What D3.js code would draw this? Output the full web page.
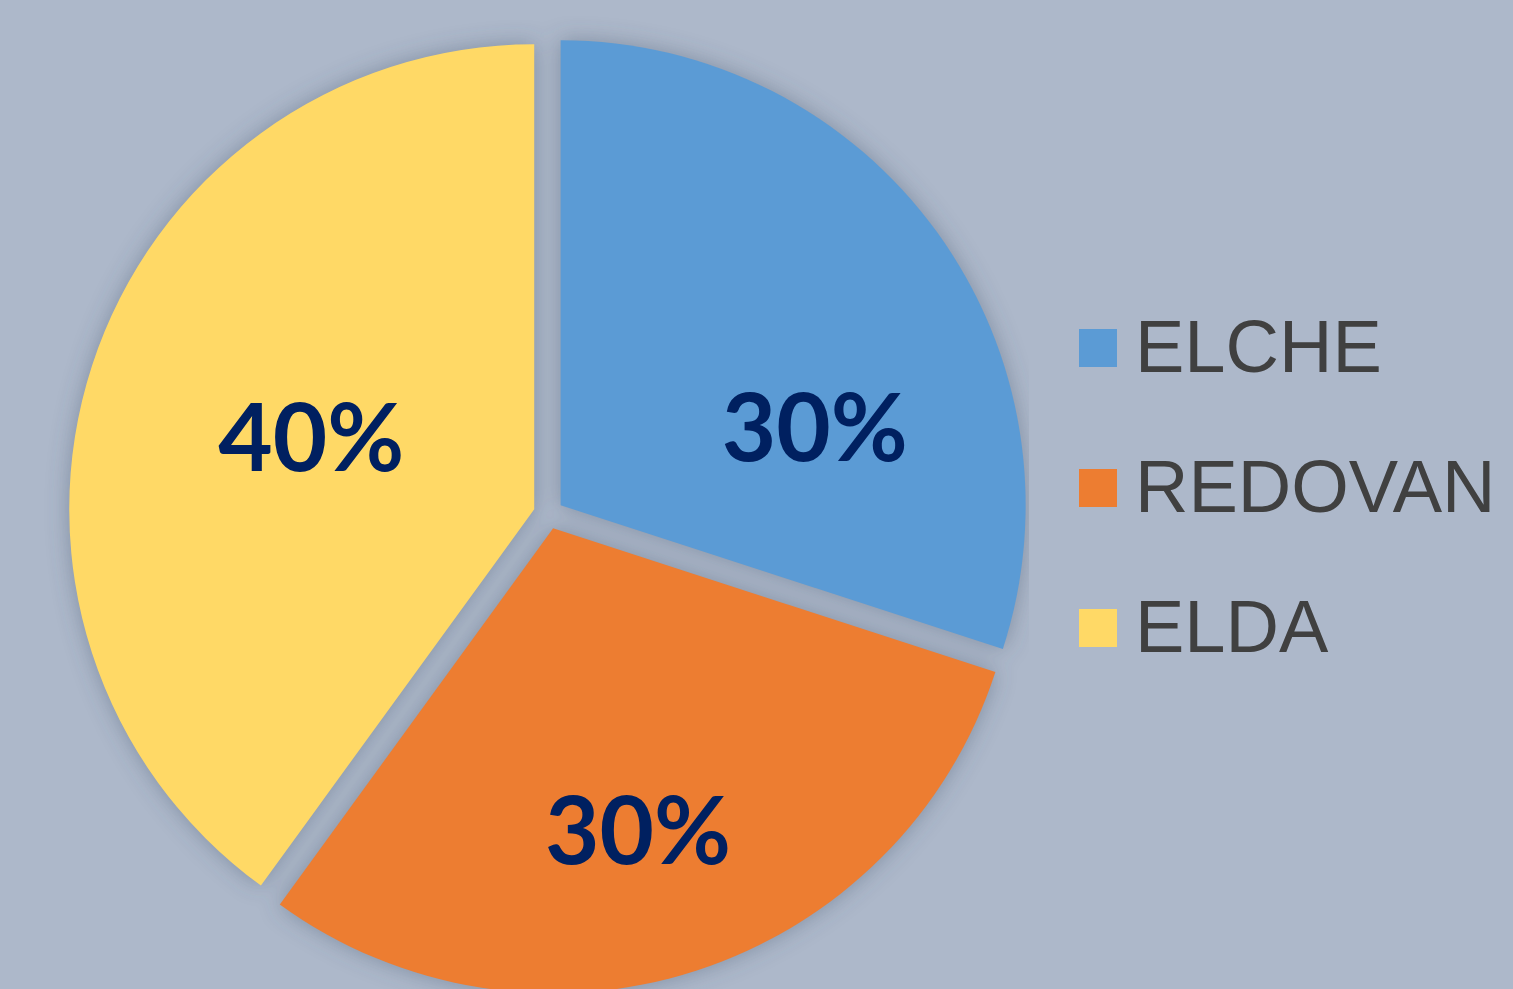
<!DOCTYPE html>
<html>
<head>
<meta charset="utf-8">
<script src="https://cdn.jsdelivr.net/npm/d3@7"></script>
<style>
  html, body { margin: 0; padding: 0; background: #adb8ca; }
  svg { display: block; }
</style>
</head>
<body>
<script>
const categories = ['ELCHE', 'REDOVAN', 'ELDA'];
const values = [30, 30, 40];
const colors = ['#5b9bd5', '#ed7d31', '#ffd966'];

// label placement per slice: fraction of radius, angle nudge (deg) from bisector
const labelRadius = [0.572, 0.675, 0.504];
const labelTurn = [18.9, 2.3, 0];

function plot()
{
    const W = 1513, H = 989;
    const cx = 548.5, cy = 514, radius = 465, explode = 15;

    const svg = d3.select('body')
        .append('svg')
        .attr('width', W)
        .attr('height', H);

    svg.append('rect')
        .attr('width', W).attr('height', H)
        .attr('fill', '#adb8ca');

    const defs = svg.append('defs');
    defs.append('filter')
        .attr('id', 'soft')
        .attr('x', '-20%').attr('y', '-20%')
        .attr('width', '140%').attr('height', '140%')
        .append('feGaussianBlur')
        .attr('stdDeviation', 11);
    defs.append('clipPath')
        .attr('id', 'plotArea')
        .append('rect')
        .attr('x', 37).attr('y', 0)
        .attr('width', 992).attr('height', H);

    const pie = d3.pie().sort(null).value(d => d);
    const arcs = pie(values);
    const arc = d3.arc().innerRadius(0).outerRadius(radius);

    const shift = d => {
        const a = (d.startAngle + d.endAngle) / 2;
        return [cx + explode * Math.sin(a), cy - explode * Math.cos(a)];
    };

    // soft shadow behind the slices
    svg.append('g')
        .attr('clip-path', 'url(#plotArea)')
        .append('g')
        .attr('filter', 'url(#soft)')
        .selectAll('path')
        .data(arcs).enter().append('path')
        .attr('transform', d => `translate(${shift(d)})`)
        .attr('d', arc)
        .attr('fill', '#4a5a72')
        .attr('opacity', 0.45);

    const slices = svg.append('g');
    slices.selectAll('path')
        .data(arcs).enter().append('path')
        .attr('transform', d => `translate(${shift(d)})`)
        .attr('d', arc)
        .attr('fill', (d, i) => colors[i]);

    slices.selectAll('text')
        .data(arcs).enter().append('text')
        .attr('transform', (d, i) => {
            const [sx, sy] = shift(d);
            const a = (d.startAngle + d.endAngle) / 2 + labelTurn[i] * Math.PI / 180;
            const r = radius * labelRadius[i];
            return `translate(${sx + r * Math.sin(a)},${sy - r * Math.cos(a)})`;
        })
        .attr('text-anchor', 'middle')
        .attr('dy', '0.36em')
        .attr('font-family', 'Lato, "Open Sans", sans-serif')
        .attr('font-weight', 'bold')
        .attr('font-size', 94)
        .attr('fill', '#002060')
        .text(d => d.data + '%');

    // legend
    const legend = svg.append('g').attr('transform', 'translate(1079,329)');
    const item = legend.selectAll('g')
        .data(categories).enter().append('g')
        .attr('transform', (d, i) => `translate(0,${i * 140})`);
    item.append('rect')
        .attr('width', 38).attr('height', 38)
        .attr('fill', (d, i) => colors[i]);
    item.append('text')
        .attr('x', 56)
        .attr('y', 43)
        .attr('font-family', '"Liberation Sans", Arial, sans-serif')
        .attr('font-size', 74)
        .attr('fill', '#404040')
        .text(d => d);
}

plot();
</script>
</body>
</html>
